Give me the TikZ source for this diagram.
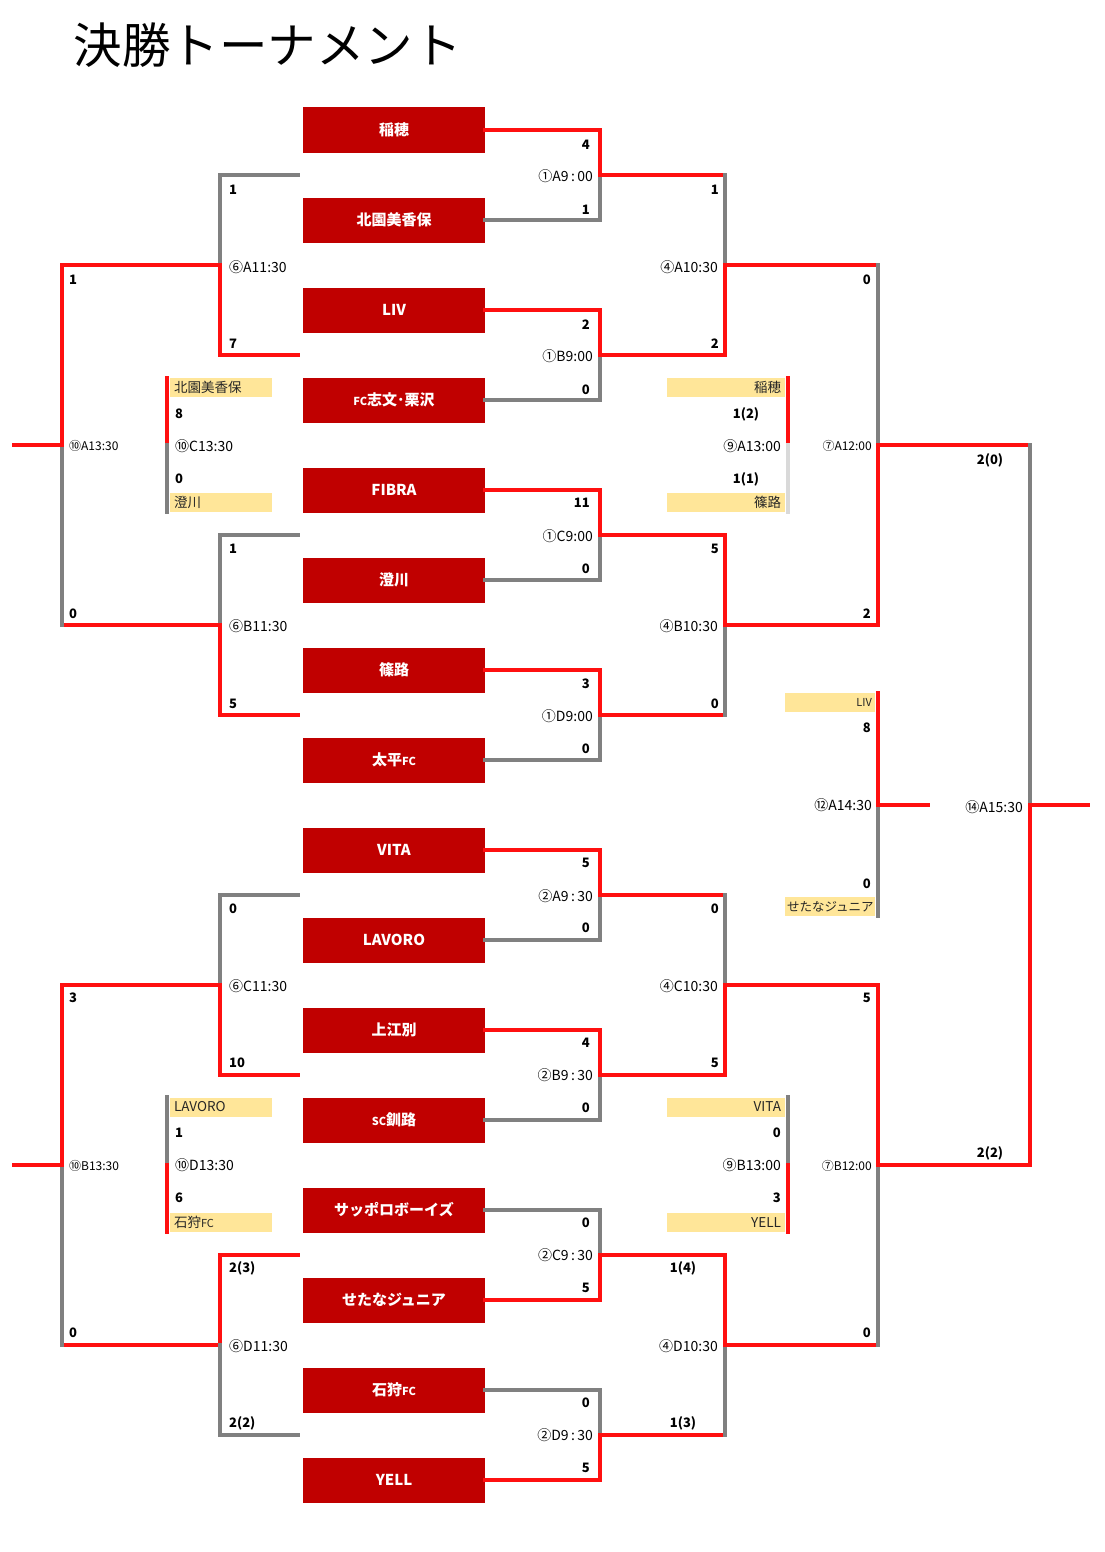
\documentclass[tikz,border=0pt]{standalone}
\usepackage{fontspec}
\setmainfont{Noto Sans CJK JP}
\definecolor{tred}{HTML}{FF1010}
\definecolor{tgray}{HTML}{808080}
\definecolor{tpale}{HTML}{D9D9D9}
\definecolor{tbox}{HTML}{C00000}
\definecolor{tseed}{HTML}{FFE699}
\newcommand{\latsmall}[1]{{\fontsize{11}{12}\selectfont #1}}

\begin{document}
\begin{tikzpicture}[x=1pt, y=-1pt,
    win/.style={draw=tred, line width=4.5pt, line cap=rect},
    lose/.style={draw=tgray, line width=4.5pt, line cap=rect},
    pale/.style={draw=tpale, line width=4.5pt, line cap=rect},
    team/.style={fill=tbox, text=white, font=\bfseries\fontsize{15}{16}\selectfont,
        minimum width=182pt, minimum height=45pt, inner sep=0pt},
    seedl/.style={fill=tseed, text=black!85, font=\fontsize{13.5}{15}\selectfont, text width=94pt,
        align=left, minimum height=19pt, inner xsep=4pt, inner ysep=1pt},
    seedr/.style={seedl, align=right},
    score/.style={font=\bfseries\fontsize{13}{15}\selectfont, inner sep=0pt},
    match/.style={font=\fontsize{14}{16}\selectfont, inner sep=0pt},
    smallmatch/.style={font=\fontsize{12}{14}\selectfont, inner sep=0pt}]
    \useasboundingbox (0,0) rectangle (1105,1552);

    % Title
    \node[anchor=west, font=\fontsize{48.5}{52}\selectfont] (title) at (70,45) {決勝トーナメント};

    % Teams
    \foreach \name [count=\i] in {稲穂, 北園美香保, LIV, \latsmall{FC}志文･栗沢, FIBRA, 澄川, 篠路,
        太平\latsmall{FC}, VITA, LAVORO, 上江別, \latsmall{SC}釧路, サッポロボーイズ, せたなジュニア,
        石狩\latsmall{FC}, YELL}
        \node[team] (t\i) at (394,40+90*\i) {\name};

    % Match points
    \foreach \k/\y in {1A/175, 1B/355, 1C/535, 1D/715, 2A/895, 2B/1075, 2C/1255, 2D/1435} {
        \coordinate (m\k) at (600,\y);
        \coordinate (l\k) at (298,\y);
    }
    \foreach \k/\y in {A/265, B/625, C/985, D/1345} {
        \coordinate (m4\k) at (725,\y);
        \coordinate (m6\k) at (220,\y);
    }
    \coordinate (m7A) at (878,445);
    \coordinate (m7B) at (878,1165);
    \coordinate (m14) at (1030,805);
    \coordinate (champ) at (1088,805);
    \coordinate (m10A) at (62,445);
    \coordinate (m10B) at (62,1165);
    \coordinate (o10A) at (14,445);
    \coordinate (o10B) at (14,1165);

    % First round
    \draw[win] (t1.east) -| (m1A);  \draw[lose] (t2.east) -| (m1A);
    \draw[win] (t3.east) -| (m1B);  \draw[lose] (t4.east) -| (m1B);
    \draw[win] (t5.east) -| (m1C);  \draw[lose] (t6.east) -| (m1C);
    \draw[win] (t7.east) -| (m1D);  \draw[lose] (t8.east) -| (m1D);
    \draw[win] (t9.east) -| (m2A);  \draw[lose] (t10.east) -| (m2A);
    \draw[win] (t11.east) -| (m2B); \draw[lose] (t12.east) -| (m2B);
    \draw[lose] (t13.east) -| (m2C); \draw[win] (t14.east) -| (m2C);
    \draw[lose] (t15.east) -| (m2D); \draw[win] (t16.east) -| (m2D);

    % Later rounds
    \foreach \a/\b/\m/\ta/\tb in {m1A/m1B/m4A/lose/win, m1C/m1D/m4B/win/lose,
        m2A/m2B/m4C/lose/win, m2C/m2D/m4D/win/lose, m4A/m4B/m7A/lose/win,
        m4C/m4D/m7B/win/lose, m7A/m7B/m14/lose/win,
        m6A/m6B/m10A/win/lose, m6C/m6D/m10B/win/lose} {
        \draw[win] (\a) -- (\a -| \m) (\b) -- (\b -| \m);
        \draw[\ta] (\a -| \m) -- (\m);
        \draw[\tb] (\b -| \m) -- (\m);
    }
    \draw[win] (m14) -- (champ);
    \draw[win] (m10A) -- (o10A);
    \draw[win] (m10B) -- (o10B);

    % Losers' side
    \draw[lose] (l1A) -| (m6A); \draw[win] (l1B) -| (m6A);
    \draw[lose] (l1C) -| (m6B); \draw[win] (l1D) -| (m6B);
    \draw[lose] (l2A) -| (m6C); \draw[win] (l2B) -| (m6C);
    \draw[win] (l2C) -| (m6D); \draw[lose] (l2D) -| (m6D);

    % Small matches
    \node[seedl] (y10Ct) at (221,387.5) {北園美香保};
    \node[seedl] (y10Cb) at (221,502.5) {澄川};
    \node[seedr, text width=110pt] (y9At) at (726,387.5) {稲穂};
    \node[seedr, text width=110pt] (y9Ab) at (726,502.5) {篠路};
    \node[seedl] (y10Dt) at (221,1107) {LAVORO};
    \node[seedl] (y10Db) at (221,1222.5) {石狩\latsmall{FC}};
    \node[seedr, text width=110pt] (y9Bt) at (726,1107) {VITA};
    \node[seedr, text width=110pt] (y9Bb) at (726,1222.5) {YELL};
    \node[seedr, text width=84pt, inner xsep=3pt] (y12t) at (830,702.5) {\latsmall{LIV}};
    \node[seedr, text width=86pt, inner xsep=2pt, font=\fontsize{12.5}{14}\selectfont] (y12b) at (830,906.5) {せたなジュニア};
    \coordinate (m10C) at (167,445);
    \coordinate (m10D) at (167,1165);
    \coordinate (m9A) at (788,445);
    \coordinate (m9B) at (788,1165);
    \coordinate (m12) at (878,805);
    \coordinate (o12) at (928,805);
    \draw[win] (m10C) -- (m10C |- y10Ct.north); \draw[lose] (m10C) -- (m10C |- y10Cb.south);
    \draw[win] (m9A) -- (m9A |- y9At.north);    \draw[pale] (m9A) -- (m9A |- y9Ab.south);
    \draw[lose] (m10D) -- (m10D |- y10Dt.north); \draw[win] (m10D) -- (m10D |- y10Db.south);
    \draw[lose] (m9B) -- (m9B |- y9Bt.north);   \draw[win] (m9B) -- (m9B |- y9Bb.south);
    \draw[lose] (m12) -- (m12 |- y12b.south);   \draw[win] (m12) -- (m12 |- y12t.north);
    \draw[win] (m12) -- (o12);

    % Scores
    \foreach \y/\s [count=\k] in {145/4, 210/1, 325/2, 390/0, 503/11, 569/0, 684/3, 749/0,
        863/5, 928/0, 1043/4, 1108/0, 1223/0, 1288/5, 1403/0, 1468/5}
        \node[score, anchor=east] (sa\k) at (590,\y) {\s};
    \foreach \y/\s [count=\k] in {190/1, 344/2, 549/5, 704/0, 909/0, 1063/5}
        \node[score, anchor=east] (sb\k) at (719,\y) {\s};
    \node[score] (sb7) at (683,1268) {1(4)};
    \node[score] (sb8) at (683,1423) {1(3)};
    \foreach \y/\s [count=\k] in {280/0, 614/2, 998/5, 1333/0, 728/8, 884/0}
        \node[score, anchor=east] (sc\k) at (871,\y) {\s};
    \node[score] (sd1) at (990,460) {2(0)};
    \node[score] (sd2) at (990,1153) {2(2)};
    \node[score] (se1) at (746,414) {1(2)};
    \node[score] (se2) at (746,479) {1(1)};
    \node[score, anchor=east] (se3) at (781,1133) {0};
    \node[score, anchor=east] (se4) at (781,1198) {3};
    \foreach \y/\s [count=\k] in {414/8, 479/0, 1133/1, 1198/6}
        \node[score, anchor=west] (sf\k) at (175,\y) {\s};
    \foreach \y/\s [count=\k] in {190/1, 344/7, 549/1, 704/5, 909/0, 1063/10, 1268/2(3), 1423/2(2)}
        \node[score, anchor=west] (sg\k) at (229,\y) {\s};
    \foreach \y/\s [count=\k] in {280/1, 614/0, 998/3, 1333/0}
        \node[score, anchor=west] (sh\k) at (69,\y) {\s};

    % Match labels
    \foreach \y/\s [count=\k] in {176/①A9\,:\,00, 356/①B9:00, 536/①C9:00, 716/①D9:00,
        896/②A9\,:\,30, 1075/②B9\,:\,30, 1255/②C9\,:\,30, 1435/②D9\,:\,30}
        \node[match, anchor=east] (la\k) at (593,\y) {\s};
    \foreach \y/\s [count=\k] in {267/④A10:30, 626/④B10:30, 986/④C10:30, 1346/④D10:30}
        \node[match, anchor=east] (lb\k) at (718,\y) {\s};
    \foreach \y/\s [count=\k] in {267/⑥A11:30, 626/⑥B11:30, 986/⑥C11:30, 1346/⑥D11:30}
        \node[match, anchor=west] (lc\k) at (229,\y) {\s};
    \node[smallmatch, anchor=east] (ld1) at (872,446) {⑦A12:00};
    \node[smallmatch, anchor=east] (ld2) at (872,1166) {⑦B12:00};
    \node[smallmatch, anchor=west] (ld3) at (69,446) {⑩A13:30};
    \node[smallmatch, anchor=west] (ld4) at (69,1166) {⑩B13:30};
    \node[match, anchor=west] (le1) at (175,446) {⑩C13:30};
    \node[match, anchor=west] (le2) at (175,1165) {⑩D13:30};
    \node[match, anchor=east] (le3) at (781,446) {⑨A13:00};
    \node[match, anchor=east] (le4) at (781,1165) {⑨B13:00};
    \node[match, anchor=east] (le5) at (872,805) {⑫A14:30};
    \node[match, anchor=east] (le6) at (1023,807) {⑭A15:30};
\end{tikzpicture}
\end{document}
